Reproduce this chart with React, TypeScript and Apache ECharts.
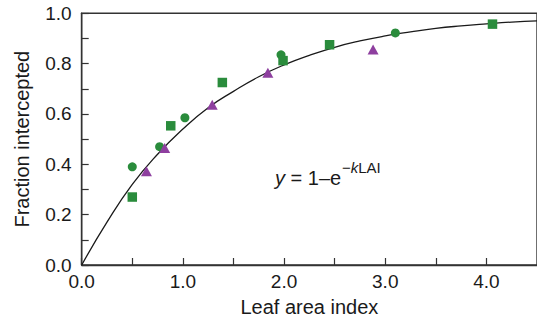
import React, { useEffect, useRef } from "react";
import * as echarts from "echarts";

// Scatter data
const circleX = [0.5, 0.77, 1.02, 1.97, 3.1];
const circleY = [0.39, 0.47, 0.585, 0.835, 0.922];
const squareX = [0.5, 0.88, 1.39, 1.99, 2.45, 4.06];
const squareY = [0.27, 0.553, 0.725, 0.812, 0.875, 0.957];
const triangleX = [0.64, 0.82, 1.29, 1.84, 2.88];
const triangleY = [0.372, 0.465, 0.637, 0.764, 0.856];

// Fitted curve, points
const curveX = [0, 0.25, 0.5, 0.75, 1.0, 1.25, 1.5, 1.75, 2.0, 2.25, 2.5, 2.75, 3.0, 3.25, 3.5, 3.75, 4.0, 4.25, 4.5];
const curveY = [0, 0.17, 0.32, 0.44, 0.54, 0.625, 0.69, 0.748, 0.795, 0.833, 0.865, 0.89, 0.91, 0.926, 0.94, 0.95, 0.958, 0.965, 0.97];

const xTicks = [0, 1, 2, 3, 4];
const yTicks = [0, 0.2, 0.4, 0.6, 0.8, 1.0];

const FONT = "'Liberation Sans', Arial, Helvetica, sans-serif";
const GREEN = "#2a8c3c";
const PURPLE = "#8e3f9f";
const AXIS = "#333333";
const TEXT = "#1a1a1a";

const zip = (xs: number[], ys: number[]) => xs.map((x, i) => [x, ys[i]]);

export default function App() {
  const ref = useRef<HTMLDivElement>(null);
  useEffect(() => {
    document.body.style.margin = "0";
    const chart = echarts.init(ref.current!, null, { renderer: "svg" });
    const near = (v: number, arr: number[]) => arr.some((t) => Math.abs(t - v) < 1e-6);
    chart.setOption({
      animation: false,
      grid: {
        left: 81.7,
        top: 13.3,
        width: 457.7,
        height: 251.7,
        show: true,
        borderColor: AXIS,
        borderWidth: 1.4,
        backgroundColor: "transparent",
      },
      xAxis: {
        type: "value",
        min: 0,
        max: 4.5,
        interval: 0.5,
        name: "Leaf area index",
        nameLocation: "middle",
        nameGap: 32,
        nameTextStyle: { fontFamily: FONT, fontSize: 20, color: TEXT },
        axisLine: { lineStyle: { color: AXIS, width: 1.4 } },
        axisTick: { inside: true, length: 7, lineStyle: { color: AXIS, width: 1.2 } },
        splitLine: { show: false },
        axisLabel: {
          fontFamily: FONT,
          fontSize: 19,
          color: TEXT,
          margin: 7,
          showMaxLabel: false,
          formatter: (v: number) => (near(v, xTicks) ? v.toFixed(1) : ""),
        },
      },
      yAxis: {
        type: "value",
        min: 0,
        max: 1,
        interval: 0.1,
        name: "Fraction intercepted",
        nameLocation: "middle",
        nameGap: 50,
        nameTextStyle: { fontFamily: FONT, fontSize: 20, color: TEXT },
        axisLine: { lineStyle: { color: AXIS, width: 1.4 } },
        axisTick: { inside: true, length: 7, lineStyle: { color: AXIS, width: 1.2 } },
        splitLine: { show: false },
        axisLabel: {
          fontFamily: FONT,
          fontSize: 19,
          color: TEXT,
          margin: 10,
          formatter: (v: number) => (near(v, yTicks) ? v.toFixed(1) : ""),
        },
      },
      graphic: [
        {
          type: "text",
          left: 275,
          top: 168,
          style: {
            text: "{i|y} = 1–e",
            font: `20px ${FONT}`,
            fill: TEXT,
            rich: {
              i: { fontStyle: "italic", fontSize: 20, fontFamily: FONT, fill: TEXT },
            },
          },
        },
        {
          type: "text",
          left: 342,
          top: 160,
          style: {
            text: "−{i|k}LAI",
            font: `15px ${FONT}`,
            fill: TEXT,
            rich: {
              i: { fontStyle: "italic", fontSize: 15, fontFamily: FONT, fill: TEXT },
            },
          },
        },
      ],
      series: [
        {
          type: "line",
          data: zip(curveX, curveY),
          smooth: 0.5,
          showSymbol: false,
          lineStyle: { color: "#1a1a1a", width: 1.3 },
          z: 1,
        },
        {
          type: "scatter",
          data: zip(circleX, circleY),
          symbol: "circle",
          symbolSize: 9,
          itemStyle: { color: GREEN, opacity: 1 },
          z: 3,
        },
        {
          type: "scatter",
          data: zip(squareX, squareY),
          symbol: "rect",
          symbolSize: 9.5,
          itemStyle: { color: GREEN, opacity: 1 },
          z: 3,
        },
        {
          type: "scatter",
          data: zip(triangleX, triangleY),
          symbol: "triangle",
          symbolSize: [11, 10],
          itemStyle: { color: PURPLE, opacity: 1 },
          z: 3,
        },
      ],
    });
    return () => chart.dispose();
  }, []);
  return <div ref={ref} style={{ width: 537, height: 325 }} />;
}
